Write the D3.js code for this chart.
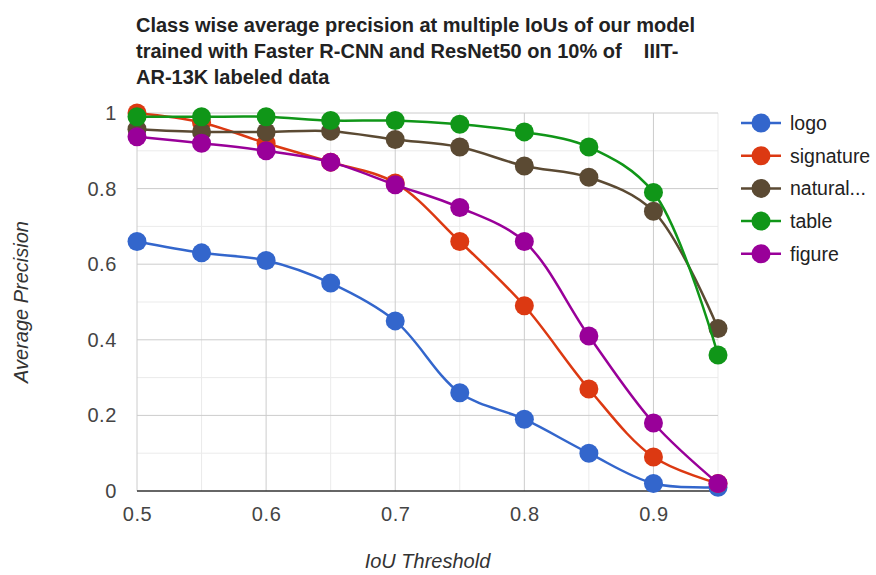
<!DOCTYPE html>
<html>
<head>
<meta charset="utf-8">
<script src="https://cdn.jsdelivr.net/npm/d3@7"></script>
<style>
  body { margin: 0; background: #fff; }
  text { font-family: Arial, "Liberation Sans", sans-serif; }
</style>
</head>
<body>
<div id="viz"></div>
<script>
const width = 876;
const height = 575;
const margin = {top: 113, right: 158, bottom: 84, left: 137};

// data
const iouThresholds = [0.5, 0.55, 0.6, 0.65, 0.7, 0.75, 0.8, 0.85, 0.9, 0.95];
const seriesNames = ['logo', 'signature', 'natural...', 'table', 'figure'];
const logo      = [0.66, 0.63, 0.61, 0.55, 0.45, 0.26, 0.19, 0.10, 0.02, 0.01];
const signature = [1.00, 0.975, 0.92, 0.87, 0.815, 0.66, 0.49, 0.27, 0.09, 0.02];
const natural   = [0.957, 0.95, 0.95, 0.952, 0.93, 0.91, 0.86, 0.83, 0.74, 0.43];
const table     = [0.99, 0.99, 0.99, 0.98, 0.98, 0.97, 0.95, 0.91, 0.79, 0.36];
const figure    = [0.937, 0.92, 0.90, 0.87, 0.81, 0.75, 0.66, 0.41, 0.18, 0.02];
const colors = ['#3366cc', '#dc3912', '#5b4a33', '#109618', '#990099'];
const xTicks = [0.5, 0.6, 0.7, 0.8, 0.9];
const yTicks = [0, 0.2, 0.4, 0.6, 0.8, 1];

const allSeries = [logo, signature, natural, table, figure];

const svg = d3.select('#viz').append('svg')
    .attr('width', width)
    .attr('height', height);

const x = d3.scaleLinear()
    .domain([0.5, 0.95])
    .range([margin.left, width - margin.right]);

const y = d3.scaleLinear()
    .domain([0, 1])
    .range([height - margin.bottom, margin.top]);

// minor grid
svg.append('g')
    .selectAll('line')
    .data([0.55, 0.65, 0.75, 0.85, 0.95])
    .join('line')
    .attr('x1', d => x(d)).attr('x2', d => x(d))
    .attr('y1', y(0)).attr('y2', y(1))
    .attr('stroke', '#ebebeb');
svg.append('g')
    .selectAll('line')
    .data([0.1, 0.3, 0.5, 0.7, 0.9])
    .join('line')
    .attr('x1', x(0.5)).attr('x2', x(0.95))
    .attr('y1', d => y(d)).attr('y2', d => y(d))
    .attr('stroke', '#ebebeb');

// major grid
svg.append('g')
    .selectAll('line')
    .data(xTicks)
    .join('line')
    .attr('x1', d => x(d)).attr('x2', d => x(d))
    .attr('y1', y(0)).attr('y2', y(1))
    .attr('stroke', '#cccccc');
svg.append('g')
    .selectAll('line')
    .data(yTicks)
    .join('line')
    .attr('x1', x(0.5)).attr('x2', x(0.95))
    .attr('y1', d => y(d)).attr('y2', d => y(d))
    .attr('stroke', d => d === 0 ? '#333' : '#cccccc')
    .attr('stroke-width', d => d === 0 ? 1.5 : 1);

// x axis labels
const xAxis = svg.append('g')
    .attr('transform', `translate(0, ${y(0) + 30})`)
    .call(d3.axisBottom(x).tickValues(xTicks).tickSize(0).tickPadding(0).tickFormat(d3.format('.1f')));
xAxis.select('.domain').remove();
xAxis.selectAll('text')
    .attr('font-size', 20)
    .attr('letter-spacing', 0.6)
    .attr('fill', '#444')
    .attr('font-family', 'Arial, "Liberation Sans", sans-serif')
    .attr('dy', 0);

// y axis labels
const yAxis = svg.append('g')
    .attr('transform', `translate(${x(0.5) - 20}, 0)`)
    .call(d3.axisLeft(y).tickValues(yTicks).tickSize(0).tickPadding(0).tickFormat(d => d === 0 || d === 1 ? d3.format('d')(d) : d3.format('.1f')(d)));
yAxis.select('.domain').remove();
yAxis.selectAll('text')
    .attr('font-size', 20)
    .attr('letter-spacing', 0.6)
    .attr('fill', '#444')
    .attr('font-family', 'Arial, "Liberation Sans", sans-serif');

// axis titles
svg.append('text')
    .attr('x', (x(0.5) + x(0.95)) / 2)
    .attr('y', 568)
    .attr('text-anchor', 'middle')
    .attr('font-size', 20)
    .attr('font-style', 'italic')
    .attr('fill', '#333')
    .text('IoU Threshold');

svg.append('text')
    .attr('transform', `translate(28, ${(y(0) + y(1)) / 2}) rotate(-90)`)
    .attr('text-anchor', 'middle')
    .attr('font-size', 20)
    .attr('font-style', 'italic')
    .attr('fill', '#333')
    .text('Average Precision');

// title
const titleLines = [
    'Class wise average precision at multiple IoUs of our model',
    'trained with Faster R-CNN and ResNet50 on 10% of \u00a0\u00a0\u00a0IIIT-',
    'AR-13K labeled data'
];
svg.append('g')
    .selectAll('text')
    .data(titleLines)
    .join('text')
    .attr('x', 136)
    .attr('y', (d, i) => 32 + i * 26)
    .attr('font-size', 20)
    .attr('font-weight', 'bold')
    .attr('fill', '#222')
    .text(d => d);

// lines
const line = d3.line()
    .x((d, i) => x(iouThresholds[i]))
    .y(d => y(d))
    .curve(d3.curveCatmullRom.alpha(0.5));

allSeries.forEach((s, k) => {
    const g = svg.append('g');
    g.append('path')
        .attr('d', line(s))
        .attr('fill', 'none')
        .attr('stroke', colors[k])
        .attr('stroke-width', 2.5);
    g.selectAll('circle')
        .data(s)
        .join('circle')
        .attr('cx', (d, i) => x(iouThresholds[i]))
        .attr('cy', d => y(d))
        .attr('r', 9.5)
        .attr('fill', colors[k]);
});

// legend
const legend = svg.append('g')
    .attr('transform', 'translate(741, 123)');
const rows = legend.selectAll('g')
    .data(seriesNames)
    .join('g')
    .attr('transform', (d, i) => `translate(0, ${i * 32.7})`);
rows.append('line')
    .attr('x1', 0).attr('x2', 40)
    .attr('stroke', (d, i) => colors[i])
    .attr('stroke-width', 2.5);
rows.append('circle')
    .attr('cx', 20)
    .attr('r', 9.5)
    .attr('fill', (d, i) => colors[i]);
rows.append('text')
    .attr('x', 49)
    .attr('dy', '0.35em')
    .attr('font-size', 19.5)
    .attr('fill', '#222')
    .text(d => d);
</script>
</body>
</html>
